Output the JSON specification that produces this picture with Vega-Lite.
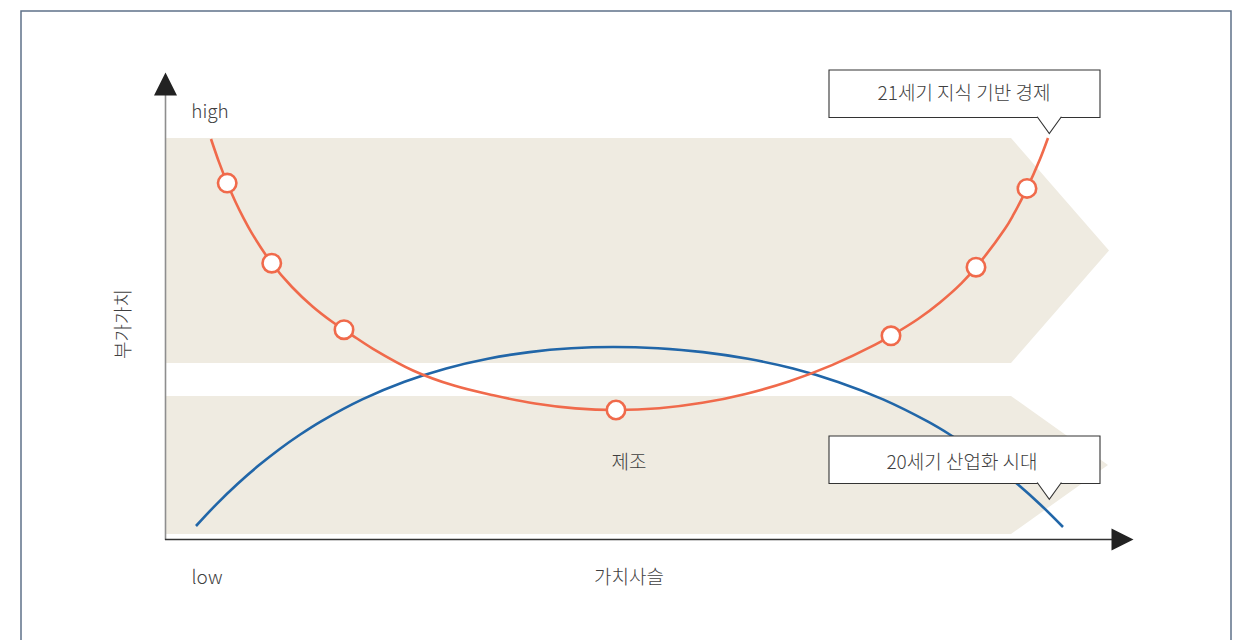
{
  "$schema": "https://vega.github.io/schema/vega-lite/v6.json",
  "width": 1239,
  "height": 640,
  "autosize": {"type": "none"},
  "padding": 0,
  "background": "white",
  "config": {"view": {"stroke": null}, "text": {"font": "Noto Sans CJK KR"}},
  "datasets": {
    "frame": [
      {"o": 1, "x": -14.4, "y": -24},
      {"o": 2, "x": -14.4, "y": 105.8},
      {"o": 3, "x": 106.6, "y": 105.8},
      {"o": 4, "x": 106.6, "y": -24}
    ],
    "bands": [
      {"band": "upper", "x": 0, "y": 80.4, "y2": 35.4},
      {"band": "upper", "x": 84.6, "y": 80.4, "y2": 35.4},
      {"band": "upper", "x": 94.4, "y": 57.9, "y2": 57.9},
      {"band": "lower", "x": 0, "y": 28.8, "y2": 1.2},
      {"band": "lower", "x": 84.6, "y": 28.8, "y2": 1.2},
      {"band": "lower", "x": 94.3, "y": 15, "y2": 15}
    ],
    "yaxis": [{"x": 0.05, "y": 0, "y2": 89}],
    "xaxis": [{"x": 0, "x2": 95.5, "y": 0.1}],
    "uparrow": [{"x": 0.05, "y": 91.2}],
    "rightarrow": [{"x": 95.75, "y": 0.1}],
    "blue": [
      {"x": 3.1, "y": 2.8},
      {"x": 5.185, "y": 7.24},
      {"x": 7.27, "y": 11.26},
      {"x": 9.355, "y": 14.88},
      {"x": 11.44, "y": 18.16},
      {"x": 13.525, "y": 21.1},
      {"x": 15.61, "y": 23.74},
      {"x": 19.78, "y": 28.18},
      {"x": 23.95, "y": 31.66},
      {"x": 28.12, "y": 34.32},
      {"x": 32.29, "y": 36.26},
      {"x": 36.46, "y": 37.58},
      {"x": 40.63, "y": 38.34},
      {"x": 44.8, "y": 38.6},
      {"x": 49.3, "y": 38.34},
      {"x": 53.8, "y": 37.58},
      {"x": 58.3, "y": 36.24},
      {"x": 62.8, "y": 34.3},
      {"x": 67.3, "y": 31.62},
      {"x": 71.8, "y": 28.12},
      {"x": 76.3, "y": 23.66},
      {"x": 78.55, "y": 21.0},
      {"x": 80.8, "y": 18.04},
      {"x": 83.05, "y": 14.76},
      {"x": 85.3, "y": 11.1},
      {"x": 87.55, "y": 7.06},
      {"x": 89.8, "y": 2.6}
    ],
    "orange": [
      {"x": 4.6, "y": 80.2},
      {"x": 5.41, "y": 75.52},
      {"x": 6.22, "y": 71.38},
      {"x": 7.03, "y": 67.7},
      {"x": 7.84, "y": 64.42},
      {"x": 8.65, "y": 61.48},
      {"x": 10.675, "y": 55.36},
      {"x": 12.7, "y": 50.6},
      {"x": 14.725, "y": 46.76},
      {"x": 16.75, "y": 43.6},
      {"x": 17.9, "y": 42.06},
      {"x": 18.775, "y": 40.88},
      {"x": 20.8, "y": 38.24},
      {"x": 24.85, "y": 33.86},
      {"x": 28.9, "y": 30.88},
      {"x": 32.95, "y": 28.88},
      {"x": 37.0, "y": 27.3},
      {"x": 41.05, "y": 26.32},
      {"x": 45.1, "y": 26.0},
      {"x": 49.42, "y": 26.36},
      {"x": 53.74, "y": 27.44},
      {"x": 58.06, "y": 29.22},
      {"x": 62.38, "y": 31.72},
      {"x": 66.7, "y": 34.98},
      {"x": 71.02, "y": 39.06},
      {"x": 72.6, "y": 40.84},
      {"x": 75.34, "y": 44.26},
      {"x": 77.5, "y": 47.52},
      {"x": 79.66, "y": 51.38},
      {"x": 81.1, "y": 54.56},
      {"x": 83.98, "y": 62.18},
      {"x": 84.84, "y": 65.06},
      {"x": 86.2, "y": 70.32},
      {"x": 87.44, "y": 75.88},
      {"x": 88.3, "y": 80.4}
    ],
    "markers": [
      {"x": 6.22, "y": 71.38},
      {"x": 10.675, "y": 55.36},
      {"x": 17.9, "y": 42.06},
      {"x": 45.1, "y": 26.0},
      {"x": 72.6, "y": 40.84},
      {"x": 81.1, "y": 54.56},
      {"x": 86.2, "y": 70.32}
    ],
    "boxes": [
      {"x": 66.4, "x2": 93.5, "y": 94.0, "y2": 84.5},
      {"x": 66.4, "x2": 93.5, "y": 20.8, "y2": 11.3}
    ],
    "pointers": [
      {"x": 88.43, "y": 82.9},
      {"x": 88.43, "y": 9.74}
    ],
    "labels": [
      {"x": 4.5, "y": 85.6, "label": "high"},
      {"x": 4.2, "y": -7.6, "label": "low"},
      {"x": 46.4, "y": -7.6, "label": "가치사슬"},
      {"x": 46.4, "y": 15.4, "label": "제조"},
      {"x": 79.9, "y": 89.2, "label": "21세기 지식 기반 경제"},
      {"x": 79.7, "y": 15.4, "label": "20세기 산업화 시대"}
    ],
    "ylabel": [{"x": -4.1, "y": 43.2, "label": "부가가치"}]
  },
  "encoding": {
    "x": {"field": "x", "type": "quantitative", "scale": {"domain": [-16.5, 107.4], "nice": false, "zero": false}, "axis": null},
    "y": {"field": "y", "type": "quantitative", "scale": {"domain": [-20, 108], "nice": false, "zero": false}, "axis": null}
  },
  "layer": [
    {
      "data": {"name": "frame"},
      "mark": {"type": "line", "stroke": "#5f7289", "strokeWidth": 1.5, "interpolate": "linear"},
      "encoding": {"order": {"field": "o", "type": "quantitative"}}
    },
    {
      "data": {"name": "bands"},
      "mark": {"type": "area", "fill": "#efebe1", "interpolate": "linear"},
      "encoding": {"y2": {"field": "y2"}, "detail": {"field": "band", "type": "nominal"}}
    },
    {
      "data": {"name": "yaxis"},
      "mark": {"type": "rule", "stroke": "#8e8e8e", "strokeWidth": 1.6},
      "encoding": {"y2": {"field": "y2"}}
    },
    {
      "data": {"name": "xaxis"},
      "mark": {"type": "rule", "stroke": "#333333", "strokeWidth": 1.6},
      "encoding": {"x2": {"field": "x2"}}
    },
    {
      "data": {"name": "uparrow"},
      "mark": {"type": "point", "shape": "M-1,1L0,-1L1,1Z", "size": 529, "filled": true, "fill": "#222222", "stroke": null, "opacity": 1}
    },
    {
      "data": {"name": "rightarrow"},
      "mark": {"type": "point", "shape": "M-1,-1L1,0L-1,1Z", "size": 484, "filled": true, "fill": "#222222", "stroke": null, "opacity": 1}
    },
    {
      "data": {"name": "blue"},
      "mark": {"type": "line", "stroke": "#2166a8", "strokeWidth": 2.6, "interpolate": "catmull-rom"}
    },
    {
      "data": {"name": "orange"},
      "mark": {"type": "line", "stroke": "#f06a4b", "strokeWidth": 2.6, "interpolate": "catmull-rom"}
    },
    {
      "data": {"name": "markers"},
      "mark": {"type": "point", "shape": "circle", "size": 340, "filled": true, "fill": "white", "stroke": "#f06a4b", "strokeWidth": 2.6, "opacity": 1}
    },
    {
      "data": {"name": "boxes"},
      "mark": {"type": "rect", "fill": "white", "stroke": "#333333", "strokeWidth": 1.1},
      "encoding": {"x2": {"field": "x2"}, "y2": {"field": "y2"}}
    },
    {
      "data": {"name": "pointers"},
      "mark": {"type": "point", "shape": "M-1.1,-0.8L0,0.727L1.1,-0.8", "size": 484, "filled": true, "fill": "white", "stroke": "#333333", "strokeWidth": 1.1, "opacity": 1}
    },
    {
      "data": {"name": "labels"},
      "mark": {"type": "text", "fontSize": 19, "fontWeight": 300, "color": "#3f3f3f", "align": "center", "baseline": "middle"},
      "encoding": {"text": {"field": "label"}}
    },
    {
      "data": {"name": "ylabel"},
      "mark": {"type": "text", "fontSize": 19, "fontWeight": 300, "color": "#3f3f3f", "align": "center", "baseline": "middle", "angle": 270},
      "encoding": {"text": {"field": "label"}}
    }
  ]
}
